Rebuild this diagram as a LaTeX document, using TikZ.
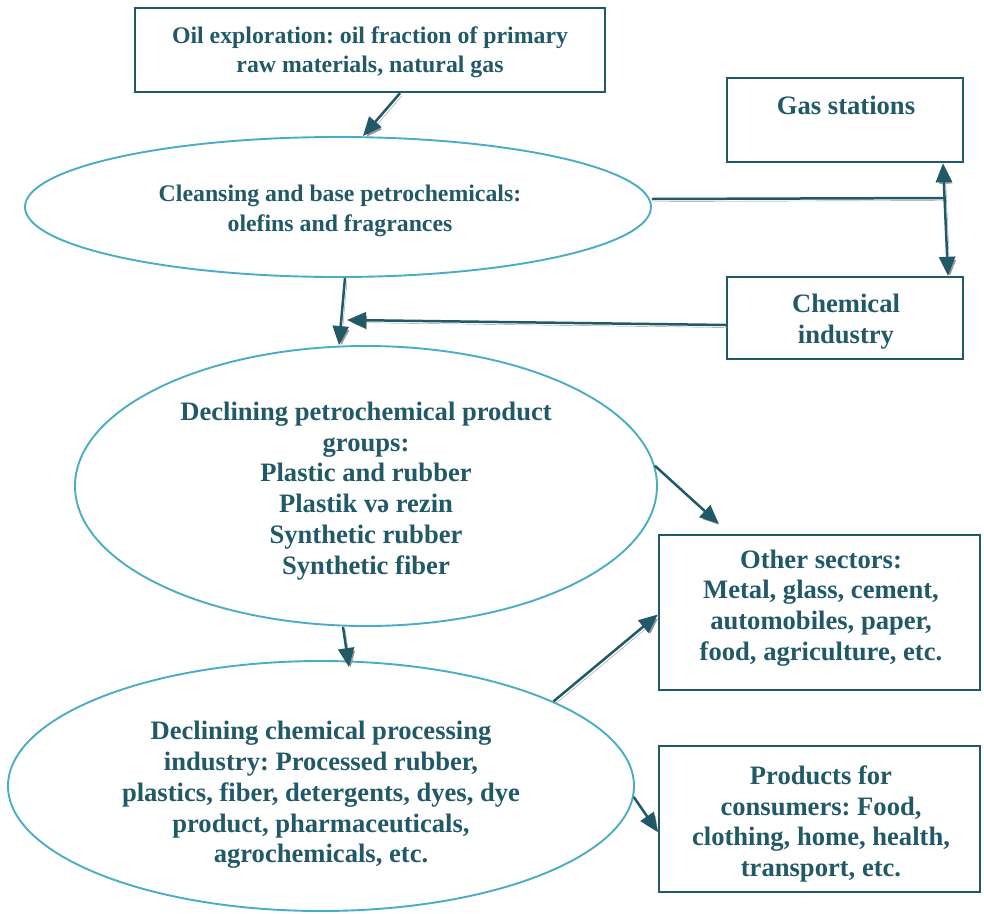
\documentclass[tikz,border=0pt]{standalone}
\usepackage{fontspec}
\setmainfont{Liberation Serif}
\usetikzlibrary{arrows.meta,shapes.geometric}
\definecolor{ink}{HTML}{215968}
\definecolor{rim}{HTML}{4BACC6}
\definecolor{shade}{HTML}{959595}
\frenchspacing
\begin{document}
\begin{tikzpicture}[x=1pt,y=-1pt,
  box/.style={draw=ink,line width=2.4pt,inner sep=0pt},
  oval/.style={ellipse,draw=rim,line width=1.9pt,inner sep=0pt},
  txt/.style={text=ink,font=\fontsize{26.6}{30.8}\selectfont\bfseries,align=center,inner sep=0pt},
  smalltxt/.style={txt,font=\fontsize{23.8}{29.5}\selectfont\bfseries},
  link/.style={draw=ink,line width=2.5pt,
    preaction={draw=shade,transform canvas={shift={(2pt,-2.5pt)}}}},
  conn/.style={link,-{Triangle[length=19pt,width=16pt]}},
  biconn/.style={link,{Triangle[length=19pt,width=16pt]}-{Triangle[length=19pt,width=16pt]}},
]
\useasboundingbox (0,0) rectangle (984,913);

% rectangular boxes
\node[box,minimum width=470pt,minimum height=84pt] (src) at (370,50) {};
\node[smalltxt] (srctext) at (370,52) {Oil exploration: oil fraction of primary\\raw materials, natural gas};

\node[box,minimum width=236pt,minimum height=84pt] (gas) at (845,120) {};
\node[txt] (gastext) at (846,105) {Gas stations};

\node[box,minimum width=236pt,minimum height=82pt] (chem) at (845,318) {};
\node[txt] (chemtext) at (846,322) {Chemical\\industry};

\node[box,minimum width=321pt,minimum height=155pt] (other) at (819.5,612.5) {};
\node[txt] (othertext) at (821,608) {Other sectors:\\Metal, glass, cement,\\automobiles, paper,\\food, agriculture, etc.};

\node[box,minimum width=321pt,minimum height=146pt] (prod) at (819.5,819) {};
\node[txt] (prodtext) at (821,824) {Products for\\consumers: Food,\\clothing, home, health,\\transport, etc.};

% elliptic stages
\node[oval,minimum width=626pt,minimum height=140pt] (e1) at (338,207) {};
\node[smalltxt] (e1text) at (340,211) {Cleansing and base petrochemicals:\\olefins and fragrances};

\node[oval,minimum width=582pt,minimum height=280pt] (e2) at (366,486) {};
\node[txt] (e2text) at (366,491) {Declining petrochemical product\\groups:\\Plastic and rubber\\Plastik və rezin\\Synthetic rubber\\Synthetic fiber};

\node[oval,minimum width=626pt,minimum height=250pt] (e3) at (321,786) {};
\node[txt] (e3text) at (321,795) {Declining chemical processing\\industry: Processed rubber,\\plastics, fiber, detergents, dyes, dye\\product, pharmaceuticals,\\agrochemicals, etc.};

% connector end points
\coordinate (j) at (946,198);
\coordinate (gasin) at ([xshift=98pt]gas.south);
\coordinate (chemin) at ([xshift=103pt]chem.north);
\coordinate (mid) at (347,320);
\coordinate (otherin) at ([xshift=61pt,yshift=10pt]other.north west);
\coordinate (e3in) at ([xshift=28pt,yshift=-7pt]e3.north);

% connectors
\draw[conn] ([xshift=30pt]src.south) -- ([xshift=25pt]e1.north);
\draw[link] ([yshift=8pt]e1.east) -- (j);
\draw[biconn] (gasin) -- (chemin);
\draw[conn] ([xshift=7pt]e1.south) -- ([xshift=-27pt]e2.north);
\draw[conn] ([yshift=-7pt]chem.west) -- (mid);
\draw[conn] (e2.4) -- (otherin);
\draw[conn] ([xshift=-23pt]e2.south) -- (e3in);
\draw[conn] (e3.20) -- ([yshift=-2pt]other.west);
\draw[conn] (e3.-2) -- ([yshift=-13pt]prod.west);
\end{tikzpicture}
\end{document}
